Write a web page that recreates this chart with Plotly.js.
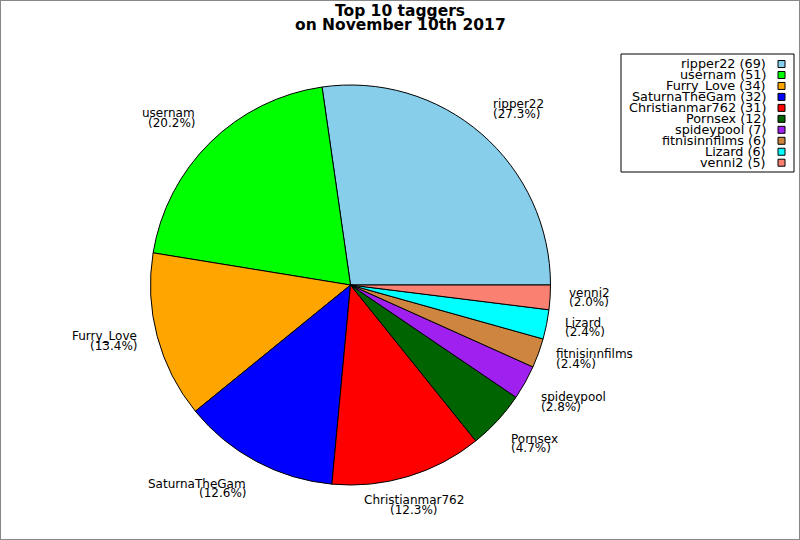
<!DOCTYPE html>
<html><head><meta charset="utf-8">
<script src="https://cdn.plot.ly/plotly-3.0.1.min.js"></script>
<style>html,body{margin:0;padding:0;background:#fff}#chart{width:800px;height:540px}</style>
</head><body><div id="chart"></div>
<script>
const taggers = ["ripper22","usernam","Furry_Love","SaturnaTheGam","Christianmar762","Pornsex","spideypool","fitnisinnfilms","Lizard","venni2"];
const tagCounts = [69,51,34,32,31,12,7,6,6,5];
const sliceColors = ["#87CEEB","#00FF00","#FFA500","#0000FF","#FF0000","#006400","#A020F0","#CD853F","#00FFFF","#FA8072"];
const titleLines = ["Top 10 taggers","on November 10th 2017"];

const W = 800, H = 540, CX = 350.5, CY = 285, R = 200;
const FONT = "DejaVu Sans";
const px2x = p => p / W;
const px2y = p => (H - p) / H;

const total = tagCounts.reduce((a, b) => a + b, 0);
const annotations = [];
const shapes = [];

// slice labels
let cum = 0;
taggers.forEach((name, i) => {
  const v = tagCounts[i];
  const th = 2 * Math.PI * (cum + v / 2) / total;
  cum += v;
  const c = Math.cos(th), s = Math.sin(th);
  const T = 0.383;
  const xa = c > T ? 'left' : (c < -T ? 'right' : 'center');
  const px = CX + 1.1 * R * c + (xa === 'left' ? -2.5 : 0), py = CY - 1.1 * R * s;
  const off = s > T ? -10 : (s < -T ? 9.5 : -1);
  const pct = '(' + (v / total * 100).toFixed(1) + '%)';
  [[name, -4.8], [pct, 4.8]].forEach(([txt, dy]) => {
    annotations.push({
      text: txt, xref: 'paper', yref: 'paper', showarrow: false,
      x: px2x(px), y: px2y(py + off + dy), xanchor: xa, yanchor: 'middle',
      borderpad: 0, font: {family: FONT, size: 12, color: '#000'}
    });
  });
});

// legend
const LG = {x0: 621, x1: 794, y0: 54, y1: 172, textRight: 767, row0: 64, step: 10.97, sq0: 778, sq: 7};
shapes.push({type: 'rect', xref: 'paper', yref: 'paper',
  x0: px2x(LG.x0), x1: px2x(LG.x1), y0: px2y(LG.y1), y1: px2y(LG.y0),
  line: {color: '#000', width: 1}, fillcolor: 'rgba(0,0,0,0)'});
taggers.forEach((name, i) => {
  const yc = LG.row0 + i * LG.step;
  annotations.push({
    text: name + ' (' + tagCounts[i] + ')', xref: 'paper', yref: 'paper', showarrow: false,
    x: px2x(LG.textRight), y: px2y(yc), xanchor: 'right', yanchor: 'middle',
    borderpad: 0, font: {family: FONT, size: 12.8, color: '#000'}
  });
  shapes.push({type: 'rect', xref: 'paper', yref: 'paper',
    x0: px2x(LG.sq0), x1: px2x(LG.sq0 + LG.sq), y0: px2y(yc + LG.sq / 2), y1: px2y(yc - LG.sq / 2),
    line: {color: '#000', width: 1}, fillcolor: sliceColors[i]});
});

// second title line
annotations.push({
  text: titleLines[1], xref: 'paper', yref: 'paper', showarrow: false,
  x: 0.5, y: px2y(24.5), xanchor: 'center', yanchor: 'middle', borderpad: 0,
  font: {family: FONT, size: 15.5, weight: 'bold', color: '#000'}
});

// outer frame
shapes.push({type: 'rect', xref: 'paper', yref: 'paper', x0: 0, x1: 1, y0: 0, y1: 1,
  line: {color: '#888', width: 2}, fillcolor: 'rgba(0,0,0,0)', layer: 'above'});

// counterclockwise pies in Plotly end the first slice at `rotation`,
// so shift it so the first slice starts at 3 o'clock
const rotation = 90 - 360 * tagCounts[0] / total;

const trace = {
  type: 'pie', labels: taggers, values: tagCounts, sort: false,
  direction: 'counterclockwise', rotation: rotation,
  marker: {colors: sliceColors, line: {color: '#000', width: 1}},
  textposition: 'none', textinfo: 'none', showlegend: false,
  domain: {x: [px2x(CX - R), px2x(CX + R)], y: [px2y(CY + R), px2y(CY - R)]},
  hovertemplate: '%{label}: %{value} (%{percent:.1%})<extra></extra>'
};

const layout = {
  width: W, height: H, margin: {l: 0, r: 0, t: 0, b: 0},
  paper_bgcolor: '#fff', plot_bgcolor: '#fff', showlegend: false,
  title: {text: titleLines[0], x: 0.5, xanchor: 'center', xref: 'paper', yref: 'paper',
    y: px2y(10.5), yanchor: 'middle',
    font: {family: FONT, size: 15.5, weight: 'bold', color: '#000'}},
  annotations: annotations, shapes: shapes
};

Plotly.newPlot('chart', [trace], layout, {displayModeBar: false, staticPlot: true});
</script>
</body></html>
